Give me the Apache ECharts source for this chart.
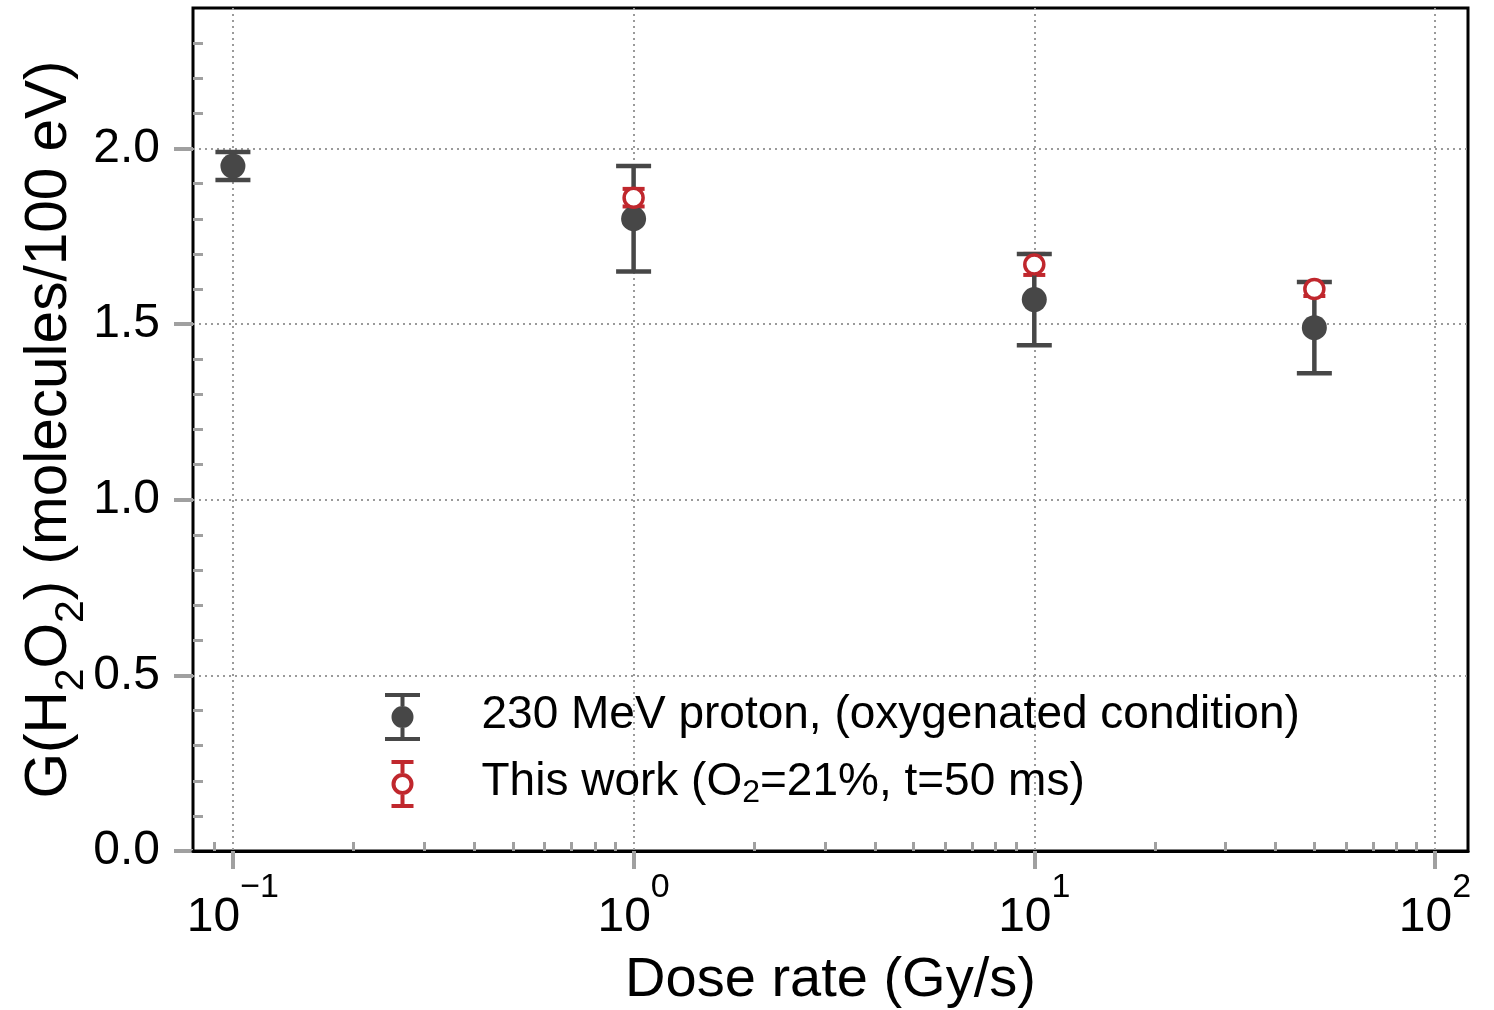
<!DOCTYPE html>
<html>
<head>
<meta charset="utf-8">
<script src="https://cdn.jsdelivr.net/npm/echarts@6/dist/echarts.min.js"></script>
<style>
  html, body { margin: 0; padding: 0; background: #fff; }
  #chart { width: 1494px; height: 1010px; }
</style>
</head>
<body>
<div id="chart"></div>
<script>
// Dose-rate dependence of the H2O2 radiation chemical yield
const protonDoseRate = [0.1, 1, 10, 50];            // Gy/s
const protonG = [1.95, 1.80, 1.57, 1.49];           // molecules/100 eV
const protonErr = [0.04, 0.15, 0.13, 0.13];

const workDoseRate = [1, 10, 50];
const workG = [1.86, 1.67, 1.60];
const workErr = [0.025, 0.03, 0.02];

const xMajorTicks = [0.1, 1, 10, 100];
const xMinorTicks = [0.09, 0.2, 0.3, 0.4, 0.5, 0.6, 0.7, 0.8, 0.9,
                     2, 3, 4, 5, 6, 7, 8, 9, 20, 30, 40, 50, 60, 70, 80, 90];
const yMajorTicks = [0, 0.5, 1.0, 1.5, 2.0];
const yMinorTicks = [0.1, 0.2, 0.3, 0.4, 0.6, 0.7, 0.8, 0.9, 1.1, 1.2, 1.3, 1.4,
                     1.6, 1.7, 1.8, 1.9, 2.1, 2.2, 2.3];

const protonName = '230 MeV proton, (oxygenated condition)';
const workName = 'This work (O2=21%, t=50 ms)';

const FONT = '"Liberation Sans", Arial, Helvetica, sans-serif';
const DARK = '#474747';
const RED = '#c0272d';
const TICK = '#a0a0a0';

const xMin = 0.0795, xMax = 120.9;
const yMin = 0, yMax = 2.4;

function errorBarSeries(name, xs, ys, errs, color, capHalf, width, z) {
  return {
    type: 'custom',
    name: name + ' err',
    z: z,
    silent: true,
    data: xs.map((x, i) => [x, ys[i] - errs[i], ys[i] + errs[i]]),
    renderItem: function (params, api) {
      const lo = api.coord([api.value(0), api.value(1)]);
      const hi = api.coord([api.value(0), api.value(2)]);
      const st = { stroke: color, lineWidth: width };
      return {
        type: 'group',
        children: [
          { type: 'line', shape: { x1: lo[0], y1: lo[1], x2: hi[0], y2: hi[1] }, style: st },
          { type: 'line', shape: { x1: lo[0] - capHalf, y1: lo[1], x2: lo[0] + capHalf, y2: lo[1] }, style: st },
          { type: 'line', shape: { x1: hi[0] - capHalf, y1: hi[1], x2: hi[0] + capHalf, y2: hi[1] }, style: st }
        ]
      };
    }
  };
}

// legend glyphs: error bar with marker
const protonIcon = 'path://M0,0h35v4h-35Z M15.5,4h4v9h-4Z M6.5,24a11,11 0 1,1 22,0a11,11 0 1,1 -22,0Z M15.5,35h4v9h-4Z M0,44h35v4h-35Z';
const workIcon = 'path://M0,0h22v4h-22Z M9,4h4v9h-4Z M0,24a11,11 0 1,1 22,0a11,11 0 1,1 -22,0Z M4,24a7,7 0 1,0 14,0a7,7 0 1,0 -14,0Z M9,35h4v9h-4Z M0,44h22v4h-22Z';

function powLabel(v) {
  const e = Math.round(Math.log10(v));
  const s = e < 0 ? '\u2212' + (-e) : String(e);
  return '{b|10}{e|' + s + '}';
}

const chart = echarts.init(document.getElementById('chart'));
chart.setOption({
  animation: false,
  backgroundColor: '#fff',
  textStyle: { fontFamily: FONT, color: '#000' },
  grid: {
    left: 193, right: 26, top: 8, bottom: 159,
    outerBoundsMode: 'none', containLabel: false,
    show: true, borderColor: '#000', borderWidth: 3, backgroundColor: 'transparent'
  },
  legend: {
    orient: 'vertical',
    left: 385, top: 692,
    padding: 0,
    itemWidth: 148, itemHeight: 48, itemGap: 18,
    selectedMode: false,
    data: [
      { name: protonName, icon: protonIcon, itemStyle: { color: DARK, borderWidth: 0 } },
      { name: workName, icon: workIcon, itemStyle: { color: RED, borderWidth: 0 } }
    ],
    formatter: function (name) {
      if (name === workName) return '{t|This work (O}{s|2}{t|=21%, t=50 ms)}';
      return '{t|' + name + '}';
    },
    textStyle: {
      fontFamily: FONT, color: '#000',
      rich: {
        t: { fontSize: 46, fontFamily: FONT, color: '#000', lineHeight: 50, verticalAlign: 'top' },
        s: { fontSize: 32, fontFamily: FONT, color: '#000', lineHeight: 24, verticalAlign: 'bottom' }
      }
    }
  },
  xAxis: [
    {
      type: 'log', logBase: 10, min: xMin, max: xMax, position: 'bottom', z: 1,
      name: 'Dose rate (Gy/s)', nameLocation: 'middle', nameGap: 102, nameMoveOverlap: false,
      nameTextStyle: { fontSize: 56, fontFamily: FONT, color: '#000' },
      axisLine: { show: true, lineStyle: { color: '#000', width: 3 } },
      axisTick: { show: true, inside: false, length: 18, customValues: xMajorTicks,
                  lineStyle: { color: TICK, width: 4 } },
      axisLabel: {
        customValues: xMajorTicks, margin: 20, formatter: powLabel,
        rich: {
          b: { fontSize: 48, fontFamily: FONT, color: '#000', lineHeight: 71, verticalAlign: 'bottom' },
          e: { fontSize: 34, fontFamily: FONT, color: '#000', lineHeight: 40, verticalAlign: 'top' }
        }
      },
      splitLine: { show: true, lineStyle: { color: '#9a9a9a', width: 2, type: [2, 4] } },
      minorTick: { show: false }
    },
    {
      type: 'log', logBase: 10, min: xMin, max: xMax, position: 'bottom', z: 1,
      axisLine: { show: false },
      axisTick: { show: true, inside: true, length: 9, customValues: xMinorTicks,
                  lineStyle: { color: TICK, width: 3 } },
      axisLabel: { show: false },
      splitLine: { show: false }
    }
  ],
  yAxis: [
    {
      type: 'value', min: yMin, max: yMax, interval: 0.5, position: 'left',
      name: '{a|G(H}{s|2}{a|O}{s|2}{a|) (molecules/100 eV)}',
      nameLocation: 'middle', nameGap: 101, nameMoveOverlap: false,
      nameTextStyle: {
        fontFamily: FONT, color: '#000',
        rich: {
          a: { fontSize: 58.5, fontFamily: FONT, color: '#000', lineHeight: 72, verticalAlign: 'top' },
          s: { fontSize: 41, fontFamily: FONT, color: '#000', lineHeight: 35, verticalAlign: 'bottom' }
        }
      },
      axisLine: { show: false },
      axisTick: { show: true, inside: false, length: 19, customValues: yMajorTicks,
                  lineStyle: { color: TICK, width: 4 } },
      axisLabel: { customValues: yMajorTicks, margin: 33, fontSize: 48, fontFamily: FONT, color: '#000',
                   formatter: v => v.toFixed(1) },
      splitLine: { show: true, lineStyle: { color: '#9a9a9a', width: 2, type: [2, 4] } }
    },
    {
      type: 'value', min: yMin, max: yMax, position: 'left',
      axisLine: { show: false },
      axisTick: { show: true, inside: true, length: 10, customValues: yMinorTicks,
                  lineStyle: { color: TICK, width: 3 } },
      axisLabel: { show: false },
      splitLine: { show: false }
    }
  ],
  series: [
    errorBarSeries(workName, workDoseRate, workG, workErr, RED, 11, 4, 2),
    errorBarSeries(protonName, protonDoseRate, protonG, protonErr, DARK, 17.5, 4.5, 3),
    {
      type: 'scatter', name: protonName, z: 4,
      data: protonDoseRate.map((x, i) => [x, protonG[i]]),
      symbol: 'circle', symbolSize: 25,
      itemStyle: { color: DARK, opacity: 1 }
    },
    {
      type: 'scatter', name: workName, z: 5,
      data: workDoseRate.map((x, i) => [x, workG[i]]),
      symbol: 'circle', symbolSize: 19,
      itemStyle: { color: '#fff', borderColor: RED, borderWidth: 3.5, opacity: 1 }
    }
  ]
});
</script>
</body>
</html>
